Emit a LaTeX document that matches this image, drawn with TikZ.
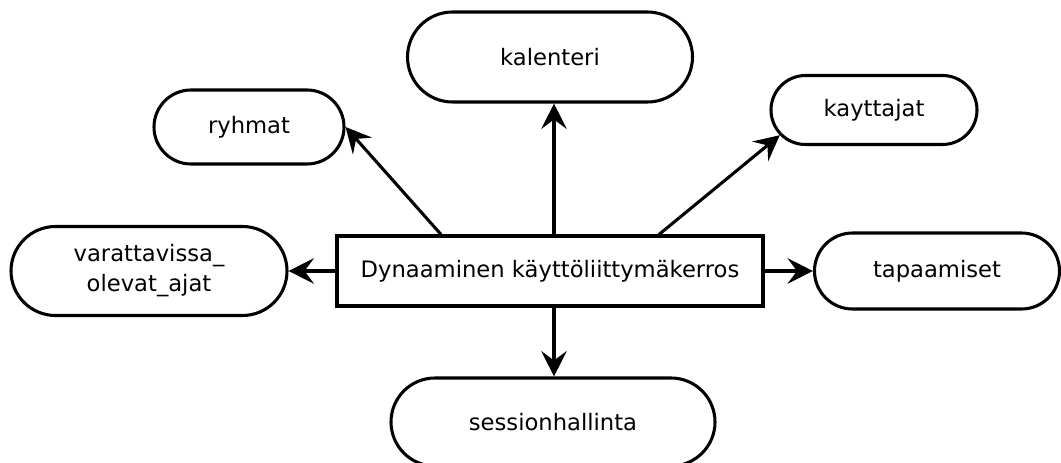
\documentclass[tikz,border=0pt]{standalone}
\usepackage{fontspec}
\setmainfont{DejaVu Sans}
\usetikzlibrary{shapes.misc,arrows.meta}
\begin{document}
\begin{tikzpicture}[x=0.75pt,y=-0.75pt,
  pill/.style={draw,line width=2.3pt,rounded rectangle,inner sep=0pt,align=center},
  layerbox/.style={draw,line width=2.3pt,rectangle,inner sep=0pt,minimum width=319.5pt,minimum height=52.5pt},
  arr/.style={-{Stealth[length=19pt,width=19pt,inset=7pt]},line width=2.3pt},
  font=\fontsize{17}{22.5}\selectfont]
\useasboundingbox (0,0) rectangle (1061,463);
\node[layerbox] (layer) at (550,271) {Dynaaminen käyttöliittymäkerros};
\node[pill,minimum width=213.75pt,minimum height=67.5pt] (kalenteri) at (550,57) {kalenteri};
\node[pill,minimum width=142.5pt,minimum height=55.5pt] (ryhmat) at (249,127) {ryhmat};
\node[pill,minimum width=154.5pt,minimum height=51.75pt] (kayttajat) at (874,110) {kayttajat};
\node[pill,minimum width=207pt,minimum height=66.75pt] (varattavissa) at (149,271) {varattavissa\_\\olevat\_ajat};
\node[pill,minimum width=183.75pt,minimum height=57pt] (tapaamiset) at (937,271) {tapaamiset};
\node[pill,minimum width=243pt,minimum height=66pt] (session) at (553,422) {sessionhallinta};
\draw[arr] ([xshift=3pt]layer.north) -- ([xshift=3pt]layer.north |- kalenteri.south);
\draw[arr] ([xshift=3pt]layer.south) -- ([xshift=3pt]layer.south |- session.north);
\draw[arr] (layer.west) -- (varattavissa.east);
\draw[arr] (layer.east) -- (tapaamiset.west);
\draw[arr] ([xshift=-81.75pt]layer.north) -- (ryhmat.east);
\draw[arr] ([xshift=81.75pt]layer.north) -- (kayttajat.195);
\end{tikzpicture}
\end{document}
